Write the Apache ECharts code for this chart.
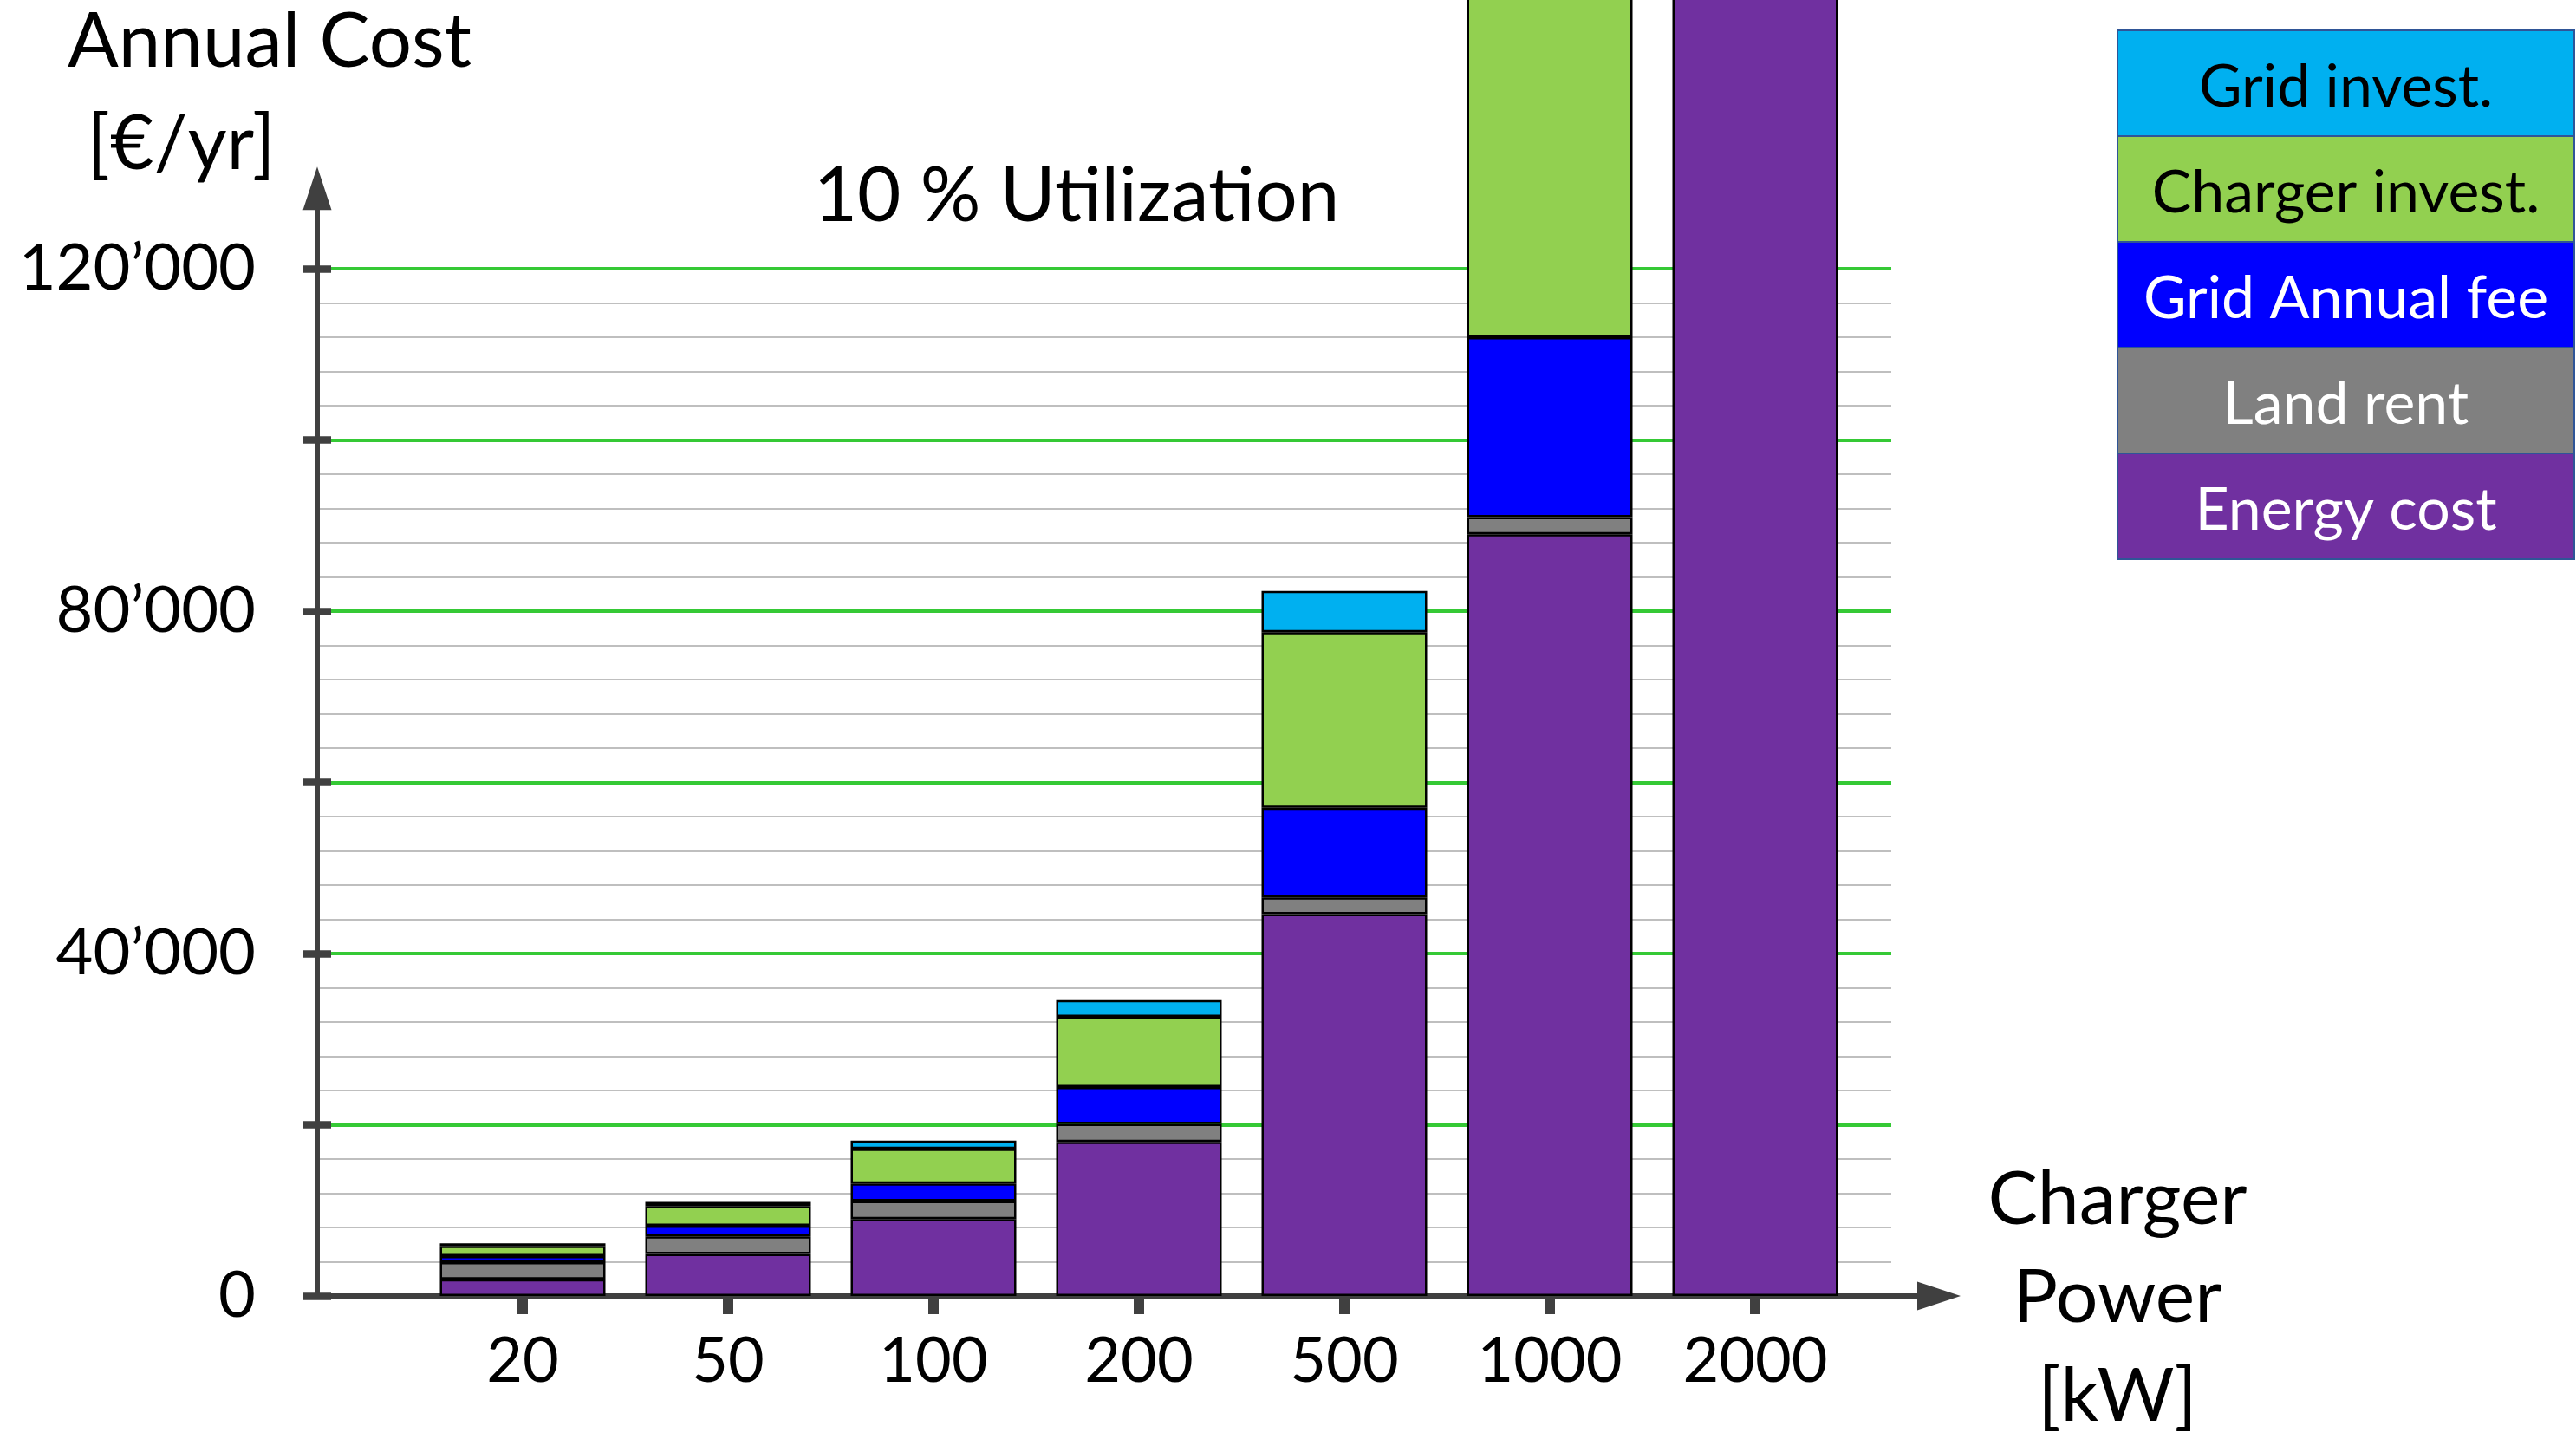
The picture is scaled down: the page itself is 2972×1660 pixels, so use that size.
<!DOCTYPE html>
<html>
<head>
<meta charset="utf-8">
<title>Annual Cost vs Charger Power</title>
<script src="https://cdn.jsdelivr.net/npm/echarts@6/dist/echarts.min.js"></script>
<style>
  html, body { margin: 0; padding: 0; background: #ffffff; }
  #chart { width: 2972px; height: 1660px; }
</style>
</head>
<body>
<div id="chart"></div>
<script>
// ---- data ----
const categories = ['20', '50', '100', '200', '500', '1000', '2000'];
const seriesNames = ['Energy cost', 'Land rent', 'Grid Annual fee', 'Charger invest.', 'Grid invest.'];
const energyCost    = [1950, 4900, 9000, 18000, 44600, 89000, 178000];
const landRent      = [2000, 2050, 2100, 2100, 1950, 2000, 2000];
const gridAnnualFee = [700, 1250, 2050, 4300, 10500, 21000, 42000];
const chargerInvest = [1200, 2300, 4050, 8200, 20500, 41000, 82000];
const gridInvest    = [300, 500, 950, 1950, 4800, 9600, 19200];
const yTickValues   = [0, 40000, 80000, 120000];

// ---- style ----
const seriesColors = ['#7030A0', '#808080', '#0000FF', '#92D050', '#00B0F0'];
const legendTextColors = ['#FFFFFF', '#FFFFFF', '#FFFFFF', '#000000', '#000000'];
const FONT = 'Lato';
const AXIS_COLOR = '#404040';

// ---- layout (px) ----
const W = 2972, H = 1660;
const X0 = 366;              // y-axis position
const Y0 = 1495;             // x-axis position
const PX_PER_UNIT_Y = 197.5 / 20000;
const PX_PER_CAT = 237;
const Y_MAX_AXIS = 129400;   // end of the y-axis line (arrow head centred there)
const GRID_MAX = 120000;     // top of the grid lines
const X_AXIS_LEN = 1871;     // end of the x-axis line (arrow head centred there)
const GRID_RIGHT_EDGE = 2182;

const axisTop = Y0 - Y_MAX_AXIS * PX_PER_UNIT_Y;
const gridTop = Y0 - GRID_MAX * PX_PER_UNIT_Y;
const bottomGap = H - Y0;

// category axis: one empty slot on each side so the bars sit at 1..7
const axisCategories = [''].concat(categories, ['']);

function fmtY(v) {
  if (v === 0) return '0';
  return (v / 1000) + '\u2019000';
}

const stacks = [energyCost, landRent, gridAnnualFee, chargerInvest, gridInvest];
const series = stacks.map((vals, i) => ({
  name: seriesNames[i],
  type: 'bar',
  stack: 'cost',
  xAxisIndex: 0,
  yAxisIndex: 0,
  barWidth: 191,
  clip: false,
  itemStyle: { color: seriesColors[i], borderColor: '#000000', borderWidth: 2.5 },
  emphasis: { disabled: true },
  data: ['-'].concat(vals, ['-'])
}));

// legend boxes, top to bottom: last series first
const legendOrder = [4, 3, 2, 1, 0];
const LEG_X = 2443, LEG_Y = 35, LEG_W = 527, LEG_H = 122;
const legendGraphics = [];
legendOrder.forEach((si, row) => {
  legendGraphics.push({
    type: 'rect',
    shape: { x: LEG_X, y: LEG_Y + row * LEG_H, width: LEG_W, height: LEG_H },
    style: { fill: seriesColors[si], stroke: '#2F5597', lineWidth: 2 },
    z: 10
  });
  legendGraphics.push({
    type: 'text',
    x: LEG_X + LEG_W / 2,
    y: LEG_Y + row * LEG_H + LEG_H / 2 + 5,
    style: {
      text: seriesNames[si], fill: legendTextColors[si],
      font: '68px ' + FONT, align: 'center', verticalAlign: 'middle'
    },
    z: 11
  });
});

function label(text, x, y, size) {
  return {
    type: 'text', x: x, y: y, z: 12,
    style: { text: text, fill: '#000000', font: size + 'px ' + FONT, align: 'center', verticalAlign: 'middle' }
  };
}

const gridLineAxis = {
  gridIndex: 1, type: 'value', position: 'left', offset: 0, min: 0, max: GRID_MAX,
  axisLine: { show: false }, axisTick: { show: false }, axisLabel: { show: false }, splitLine: { show: false }
};

const arrowLine = {
  show: true, onZero: false, symbol: ['none', 'triangle'], symbolSize: [33, 50],
  lineStyle: { color: AXIS_COLOR, width: 6 }
};

const option = {
  animation: false,
  backgroundColor: '#ffffff',
  grid: [
    // bars
    { left: X0, top: axisTop, width: 8 * PX_PER_CAT, bottom: bottomGap },
    // grid lines and y ticks
    { left: X0, top: gridTop, width: GRID_RIGHT_EDGE - X0, bottom: bottomGap },
    // axis lines with arrow heads
    { left: X0, top: axisTop, width: X_AXIS_LEN, bottom: bottomGap }
  ],
  xAxis: [
    {
      gridIndex: 0, type: 'category', data: axisCategories, boundaryGap: false,
      axisLine: { show: false },
      axisTick: {
        show: true, length: 21, alignWithLabel: true,
        interval: (idx) => idx > 0 && idx < axisCategories.length - 1,
        lineStyle: { color: AXIS_COLOR, width: 12 }
      },
      axisLabel: {
        show: true, interval: 0, margin: 40,
        fontFamily: FONT, fontSize: 72, color: '#000000'
      },
      splitLine: { show: false }
    },
    { gridIndex: 1, type: 'value', min: 0, max: 1, show: false },
    {
      gridIndex: 2, type: 'value', min: 0, max: 1,
      axisLine: arrowLine,
      axisTick: { show: false }, axisLabel: { show: false }, splitLine: { show: false }
    }
  ],
  yAxis: [
    {
      gridIndex: 0, type: 'value', min: 0, max: Y_MAX_AXIS, show: false
    },
    Object.assign({}, gridLineAxis, {
      interval: 4000,
      splitLine: { show: true, showMinLine: false, lineStyle: { color: '#BFBFBF', width: 2 } }
    }),
    Object.assign({}, gridLineAxis, {
      interval: 20000,
      axisTick: { show: true, inside: false, length: 16, lineStyle: { color: AXIS_COLOR, width: 8.5 } },
      axisLabel: {
        show: true, margin: 71, fontFamily: FONT, fontSize: 74, color: '#000000',
        formatter: (v) => yTickValues.indexOf(v) >= 0 ? fmtY(v) : ''
      },
      splitLine: { show: true, showMinLine: false, lineStyle: { color: '#35C935', width: 4 } }
    }),
    Object.assign({}, gridLineAxis, {
      interval: 20000,
      axisTick: { show: true, inside: true, length: 16, lineStyle: { color: AXIS_COLOR, width: 8.5 } }
    }),
    {
      gridIndex: 2, type: 'value', position: 'left', offset: 0, min: 0, max: 1,
      axisLine: arrowLine,
      axisTick: { show: false }, axisLabel: { show: false }, splitLine: { show: false }
    }
  ],
  series: series,
  graphic: [
    label('Annual Cost', 311, 49, 87),
    label('[\u20AC/yr]', 209, 167, 87),
    label('10 % Utilization', 1242, 227, 87),
    label('Charger', 2443, 1384, 86),
    label('Power', 2443, 1497, 86),
    label('[kW]', 2443, 1611, 86)
  ].concat(legendGraphics)
};

const chart = echarts.init(document.getElementById('chart'), null, { renderer: 'canvas', width: W, height: H });
chart.setOption(option);
</script>
</body>
</html>
